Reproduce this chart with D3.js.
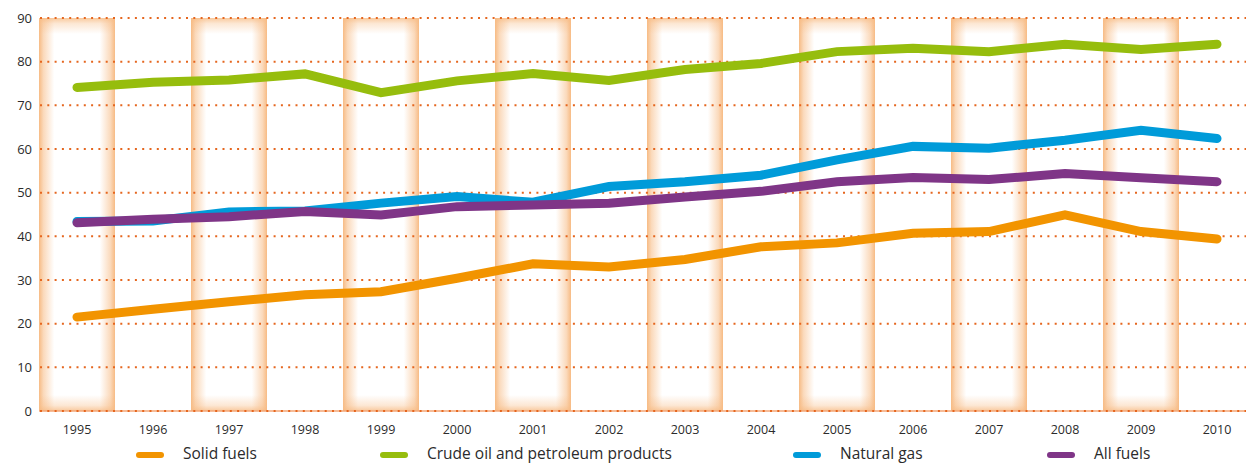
<!DOCTYPE html>
<html>
<head>
<meta charset="utf-8">
<script src="https://d3js.org/d3.v7.min.js"></script>
<style>
  body { margin: 0; background: #fff; }
  svg text { font-family: "Open Sans", sans-serif; fill: #2b2b2b; }
</style>
</head>
<body>
<svg id="chart"></svg>
<script>
  const years = ['1995','1996','1997','1998','1999','2000','2001','2002',
                 '2003','2004','2005','2006','2007','2008','2009','2010']
  const yTicks = [0, 10, 20, 30, 40, 50, 60, 70, 80, 90]

  const solidFuels = [21.5, 23.3, 25.0, 26.6, 27.3, 30.4, 33.7, 33.0,
                      34.7, 37.6, 38.5, 40.7, 41.1, 44.9, 41.1, 39.4]
  const crudeOil   = [74.1, 75.3, 75.8, 77.2, 72.9, 75.6, 77.3, 75.7,
                      78.2, 79.6, 82.3, 83.1, 82.3, 84.0, 82.8, 84.0]
  const naturalGas = [43.4, 43.5, 45.6, 45.8, 47.6, 49.1, 47.8, 51.4,
                      52.5, 54.0, 57.5, 60.6, 60.2, 62.0, 64.3, 62.4]
  const allFuels   = [43.1, 43.9, 44.5, 45.7, 44.9, 46.8, 47.2, 47.6,
                      49.0, 50.3, 52.5, 53.5, 53.0, 54.4, 53.4, 52.5]

  const seriesNames  = ['Solid fuels', 'Crude oil and petroleum products', 'Natural gas', 'All fuels']
  const seriesValues = [solidFuels, crudeOil, naturalGas, allFuels]
  const seriesColors = ['#f29400', '#96bd0d', '#009bd9', '#7f3587']

  const width = 1246, height = 463
  const margin = {top: 18, left: 39, bottom: 52}
  const bandColor = '#f7bb84'

  const svg = d3.select('#chart')
      .attr('width', width)
      .attr('height', height)

  const x = d3.scaleBand()
      .domain(years)
      .range([margin.left, margin.left + years.length * 76])

  const y = d3.scaleLinear()
      .domain([0, 90])
      .range([height - margin.bottom, margin.top])

  // gradients for the soft shaded bands
  const defs = svg.append('defs')
  const hGrad = defs.append('linearGradient').attr('id', 'hgrad')
      .attr('x1', 0).attr('x2', 1).attr('y1', 0).attr('y2', 0)
  ;[[0, 1], [0.06, 0.55], [0.2, 0], [0.8, 0], [0.94, 0.55], [1, 1]].forEach(s => {
    hGrad.append('stop').attr('offset', s[0])
        .attr('stop-color', bandColor).attr('stop-opacity', s[1])
  })
  const topGrad = defs.append('linearGradient').attr('id', 'topgrad')
      .attr('x1', 0).attr('x2', 0).attr('y1', 0).attr('y2', 1)
  ;[[0, 0.8], [0.35, 0.35], [1, 0]].forEach(s => {
    topGrad.append('stop').attr('offset', s[0])
        .attr('stop-color', bandColor).attr('stop-opacity', s[1])
  })
  const botGrad = defs.append('linearGradient').attr('id', 'botgrad')
      .attr('x1', 0).attr('x2', 0).attr('y1', 1).attr('y2', 0)
  ;[[0, 0.8], [0.35, 0.35], [1, 0]].forEach(s => {
    botGrad.append('stop').attr('offset', s[0])
        .attr('stop-color', bandColor).attr('stop-opacity', s[1])
  })

  // shaded bands on every other year
  const bandYears = years.filter((d, i) => i % 2 === 0)
  const bands = svg.append('g').attr('id', 'bands')
  const bandTop = y(90), bandH = y(0) - y(90)
  bands.selectAll('rect.side')
      .data(bandYears)
      .enter().append('rect')
      .attr('class', 'side')
      .attr('x', d => x(d)).attr('y', bandTop)
      .attr('width', x.bandwidth()).attr('height', bandH)
      .style('fill', 'url(#hgrad)')
  bands.selectAll('rect.top')
      .data(bandYears)
      .enter().append('rect')
      .attr('class', 'top')
      .attr('x', d => x(d)).attr('y', bandTop)
      .attr('width', x.bandwidth()).attr('height', 16)
      .style('fill', 'url(#topgrad)')
  bands.selectAll('rect.bot')
      .data(bandYears)
      .enter().append('rect')
      .attr('class', 'bot')
      .attr('x', d => x(d)).attr('y', y(0) - 16)
      .attr('width', x.bandwidth()).attr('height', 16)
      .style('fill', 'url(#botgrad)')

  // dotted grid
  const grid = svg.append('g').attr('id', 'grid')
  grid.append('line')
      .attr('x1', margin.left).attr('x2', width)
      .attr('y1', y(0)).attr('y2', y(0))
      .style('stroke', '#f3a676')
      .style('stroke-width', 1.5)
  grid.selectAll('line.dot')
      .data(yTicks)
      .enter().append('line')
      .attr('class', 'dot')
      .attr('x1', margin.left + 1).attr('x2', width)
      .attr('y1', d => y(d)).attr('y2', d => y(d))
      .style('stroke', '#e5661e')
      .style('stroke-width', 2)
      .style('stroke-dasharray', '2 5.3')

  // axis labels
  svg.append('g').selectAll('text')
      .data(yTicks)
      .enter().append('text')
      .attr('x', 32)
      .attr('y', d => y(d) + 4.5)
      .attr('text-anchor', 'end')
      .style('font-size', '13px')
      .text(d => d)

  svg.append('g').selectAll('text')
      .data(years)
      .enter().append('text')
      .attr('x', d => x(d) + x.bandwidth() / 2)
      .attr('y', 434)
      .attr('text-anchor', 'middle')
      .style('font-size', '12.5px')
      .text(d => d)

  // lines
  const line = d3.line()
      .x((d, i) => x(years[i]) + x.bandwidth() / 2)
      .y(d => y(d))

  svg.append('g').selectAll('path')
      .data(seriesValues)
      .enter().append('path')
      .attr('d', d => line(d))
      .style('fill', 'none')
      .style('stroke', (d, i) => seriesColors[i])
      .style('stroke-width', 9)
      .style('stroke-linecap', 'round')
      .style('stroke-linejoin', 'miter')

  // legend
  const legendX = [136, 380, 793, 1047]
  const legend = svg.append('g').attr('id', 'legend')
  seriesNames.forEach((name, i) => {
    legend.append('line')
        .attr('x1', legendX[i] + 3).attr('x2', legendX[i] + 25)
        .attr('y1', 455).attr('y2', 455)
        .style('stroke', seriesColors[i])
        .style('stroke-width', 6)
        .style('stroke-linecap', 'round')
    legend.append('text')
        .attr('x', legendX[i] + 47)
        .attr('y', 458.5)
        .style('font-size', '15.5px')
        .text(name)
  })
</script>
</body>
</html>
